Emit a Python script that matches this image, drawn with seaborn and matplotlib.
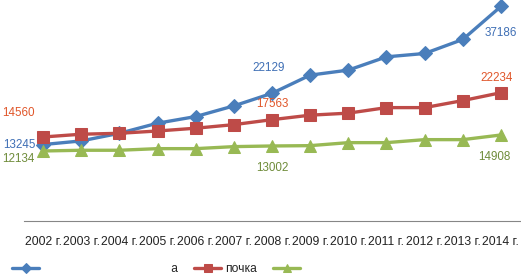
import numpy as np
import pandas as pd
import matplotlib
matplotlib.use("Agg")
import matplotlib.pyplot as plt
import seaborn as sns

years = ["2002 г.", "2003 г.", "2004 г.", "2005 г.", "2006 г.", "2007 г.", "2008 г.",
         "2009 г.", "2010 г.", "2011 г.", "2012 г.", "2013 г.", "2014 г."]
blue_vals = [13245, 13880, 15200, 16950, 18100, 19950, 22129, 25280, 26150, 28450, 29030, 31460, 37186]
red_vals = [14560, 15040, 15200, 15600, 16080, 16700, 17563, 18340, 18690, 19650, 19650, 20870, 22234]
green_vals = [12134, 12260, 12260, 12540, 12540, 12890, 13002, 13060, 13580, 13580, 14100, 14100, 14908]
series_names = ["                                      а", "почка", "                                 "]

sns.set_theme(style="white")
plt.rcParams["font.family"] = ["Liberation Sans", "DejaVu Sans"]

fig = plt.figure(figsize=(5.21, 2.79), dpi=100)
ax = fig.add_axes([24 / 521, 1 - 221 / 279, 496 / 521, 221 / 279])

x = np.arange(len(years))
colors = ["#4a7ebb", "#be4b48", "#98b954"]
markers = ["D", "s", "^"]
msizes = [7, 8, 8]
for vals, name, c, m, ms in zip([blue_vals, red_vals, green_vals], series_names, colors, markers, msizes):
    df = pd.DataFrame({"x": x, "y": vals})
    sns.lineplot(data=df, x="x", y="y", ax=ax, color=c, marker=m, markersize=ms,
                 markeredgecolor=c, linewidth=2.4, label=name)

ax.set_xlim(-0.5, len(years) - 0.5)
ax.set_ylim(0, 38300)
ax.set_xlabel("")
ax.set_ylabel("")
ax.set_yticks([])
ax.set_xticks(x)
ax.set_xticklabels(years, fontsize=8.7, color="#222222")
ax.tick_params(axis="x", which="major", length=0, pad=11)
ax.set_xticks(np.arange(-0.5, len(years), 1), minor=True)
ax.tick_params(axis="x", which="minor", length=5, color="#868686", width=0.8)
for s in ["top", "left", "right"]:
    ax.spines[s].set_visible(False)
ax.spines["bottom"].set_color("#868686")
ax.spines["bottom"].set_linewidth(0.8)

lab_colors = ["#3f6fb5", "#e0562a", "#6f8c3a"]
def lab(i, vals, c, dx, dy, ha):
    ax.annotate(str(vals[i]), (i, vals[i]), xytext=(dx, dy), textcoords="offset pixels",
                ha=ha, va="center", fontsize=8.4, color=c)

lab(0, blue_vals, lab_colors[0], -8, 0, "right")
lab(0, red_vals, lab_colors[1], -8, 24, "right")
lab(0, green_vals, lab_colors[2], -9, -8, "right")
lab(6, blue_vals, lab_colors[0], -3, 25, "center")
lab(6, red_vals, lab_colors[1], 0, 16, "center")
lab(6, green_vals, lab_colors[2], 0, -22, "center")
lab(12, blue_vals, lab_colors[0], 0, -27, "center")
lab(12, red_vals, lab_colors[1], -4, 15, "center")
lab(12, green_vals, lab_colors[2], -7, -22, "center")

handles, labels = ax.get_legend_handles_labels()
ax.get_legend().remove()
fig.legend(handles, labels, loc="center left", bbox_to_anchor=(0.012, 10 / 279),
           ncol=3, frameon=False, fontsize=8.7, handlelength=2.2, handletextpad=0.3,
           columnspacing=1.4, borderpad=0, markerscale=0.75)

fig.savefig("out.png", dpi=100, facecolor="white")
